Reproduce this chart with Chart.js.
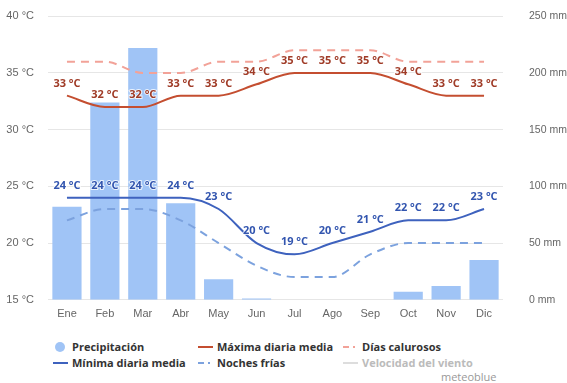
<!DOCTYPE html>
<html>
<head>
<meta charset="utf-8">
<script src="https://cdn.jsdelivr.net/npm/chart.js@4.4.1/dist/chart.umd.min.js"></script>
<style>
  html, body { margin: 0; padding: 0; background: #fff; overflow: hidden; }
  #wrap { position: relative; width: 567px; height: 383px; font-family: "Open Sans", sans-serif; overflow: hidden; }
  #chartBox { position: absolute; left: 0; top: -16px; width: 567px; height: 348px; }
  .lg { position: absolute; font-size: 11px; font-weight: 700; color: #333; white-space: nowrap; line-height: 14px; }
  .mk { position: absolute; }
  #brand { position: absolute; left: 441px; top: 369px; font-size: 11px; color: #999; }
</style>
</head>
<body>
<div id="wrap">
  <div id="chartBox"><canvas id="c"></canvas></div>
  <div id="legend"></div>
  <div id="brand">meteoblue</div>
</div>
<script>
const categories = ['Ene','Feb','Mar','Abr','May','Jun','Jul','Ago','Sep','Oct','Nov','Dic'];
const precipitation = [82, 174, 222, 85, 18, 1, 0, 0, 0, 7, 12, 35];
const maxTemp = [33, 32, 32, 33, 33, 34, 35, 35, 35, 34, 33, 33];
const hotDays = [36, 36, 35, 35, 36, 36, 37, 37, 37, 36, 36, 36];
const minTemp = [24, 24, 24, 24, 23, 20, 19, 20, 21, 22, 22, 23];
const coldNights = [22, 23, 23, 22, 20, 18, 17, 17, 19, 20, 20, 20];
const tempTicks = [15, 20, 25, 30, 35, 40];
const precTicks = [0, 50, 100, 150, 200, 250];

const C_BAR = 'rgb(160,196,246)';
const C_MAX = 'rgb(196,78,48)';
const C_HOT = 'rgb(242,162,152)';
const C_MIN = 'rgb(62,98,190)';
const C_COLD = 'rgb(124,162,222)';

const labelPlugin = {
  id: 'valueLabels',
  afterDatasetsDraw(chart) {
    const ctx = chart.ctx;
    ctx.save();
    ctx.font = 'bold 11px "Open Sans", sans-serif';
    ctx.textAlign = 'center';
    ctx.textBaseline = 'middle';
    [[1, 'rgb(160,60,40)'], [3, 'rgb(50,85,175)']].forEach(([di, col]) => {
      const meta = chart.getDatasetMeta(di);
      meta.data.forEach((pt, i) => {
        const txt = chart.data.datasets[di].data[i] + ' °C';
        const y = pt.y - 12;
        ctx.lineWidth = 2;
        ctx.strokeStyle = 'rgba(255,255,255,0.8)';
        ctx.strokeText(txt, pt.x, y);
        ctx.fillStyle = col;
        ctx.fillText(txt, pt.x, y);
      });
    });
    ctx.restore();
  }
};

new Chart(document.getElementById('c'), {
  data: {
    labels: categories,
    datasets: [
      { type: 'bar', label: 'Precipitación', data: precipitation, yAxisID: 'y1', backgroundColor: C_BAR,
        categoryPercentage: 1, barPercentage: 0.77, order: 10 },
      { type: 'line', label: 'Máxima diaria media', data: maxTemp, yAxisID: 'y', borderColor: C_MAX,
        borderWidth: 2, pointRadius: 0, cubicInterpolationMode: 'monotone', fill: false, order: 2 },
      { type: 'line', label: 'Días calurosos', data: hotDays, yAxisID: 'y', borderColor: C_HOT,
        borderWidth: 2, borderDash: [8, 6], pointRadius: 0, cubicInterpolationMode: 'monotone', fill: false, order: 3 },
      { type: 'line', label: 'Mínima diaria media', data: minTemp, yAxisID: 'y', borderColor: C_MIN,
        borderWidth: 2, pointRadius: 0, cubicInterpolationMode: 'monotone', fill: false, order: 2 },
      { type: 'line', label: 'Noches frías', data: coldNights, yAxisID: 'y', borderColor: C_COLD,
        borderWidth: 2, borderDash: [8, 6], pointRadius: 0, cubicInterpolationMode: 'monotone', fill: false, order: 3 }
    ]
  },
  options: {
    responsive: true,
    maintainAspectRatio: false,
    animation: false,
    layout: { padding: { top: 7, left: 0, right: 0, bottom: 0 } },
    plugins: { legend: { display: false }, tooltip: { enabled: false } },
    scales: {
      x: {
        grid: { display: false },
        border: { display: false },
        ticks: { color: '#666', font: { size: 11 }, padding: 0 },
        afterFit(s) { s.height = 25; }
      },
      y: {
        position: 'left', min: 15, max: 40,
        afterBuildTicks(s) { s.ticks = tempTicks.map(v => ({ value: v })); },
        ticks: { color: '#666', font: { size: 11 }, padding: 14, callback: v => v + ' °C' },
        grid: { color: '#e6e6e6', drawTicks: false },
        border: { display: false },
        afterFit(s) { s.width = 48; }
      },
      y1: {
        position: 'right', min: 0, max: 250,
        afterBuildTicks(s) { s.ticks = precTicks.map(v => ({ value: v })); },
        ticks: { color: '#666', font: { size: 10.5 }, padding: 26, callback: v => v + ' mm' },
        grid: { display: false, drawTicks: false },
        border: { display: false },
        afterFit(s) { s.width = 64; }
      }
    }
  },
  plugins: [labelPlugin]
});

// HTML legend
const legendItems = [
  { text: 'Precipitación', x: 72, y: 340, kind: 'circle', color: C_BAR },
  { text: 'Máxima diaria media', x: 217, y: 340, kind: 'line', color: C_MAX },
  { text: 'Días calurosos', x: 362, y: 340, kind: 'dash', color: C_HOT },
  { text: 'Mínima diaria media', x: 72, y: 356, kind: 'line', color: C_MIN },
  { text: 'Noches frías', x: 217, y: 356, kind: 'dash', color: C_COLD },
  { text: 'Velocidad del viento', x: 362, y: 356, kind: 'line', color: '#ddd', textColor: '#bbb' }
];
const lg = document.getElementById('legend');
legendItems.forEach(it => {
  const t = document.createElement('div');
  t.className = 'lg';
  t.style.left = it.x + 'px';
  t.style.top = it.y + 'px';
  t.textContent = it.text;
  if (it.textColor) t.style.color = it.textColor;
  lg.appendChild(t);
  const cy = it.y + 7;
  if (it.kind === 'circle') {
    const m = document.createElement('div');
    m.className = 'mk';
    m.style.cssText += `left:${it.x - 17}px;top:${cy - 5}px;width:10px;height:10px;border-radius:5px;background:${it.color};`;
    lg.appendChild(m);
  } else if (it.kind === 'line') {
    const m = document.createElement('div');
    m.className = 'mk';
    m.style.cssText += `left:${it.x - 19}px;top:${cy - 1}px;width:15px;height:2px;background:${it.color};`;
    lg.appendChild(m);
  } else {
    const m1 = document.createElement('div');
    m1.className = 'mk';
    m1.style.cssText += `left:${it.x - 19}px;top:${cy - 1}px;width:6px;height:2px;background:${it.color};`;
    lg.appendChild(m1);
    const m2 = document.createElement('div');
    m2.className = 'mk';
    m2.style.cssText += `left:${it.x - 9}px;top:${cy - 1}px;width:2px;height:2px;background:${it.color};`;
    lg.appendChild(m2);
  }
});
</script>
</body>
</html>
